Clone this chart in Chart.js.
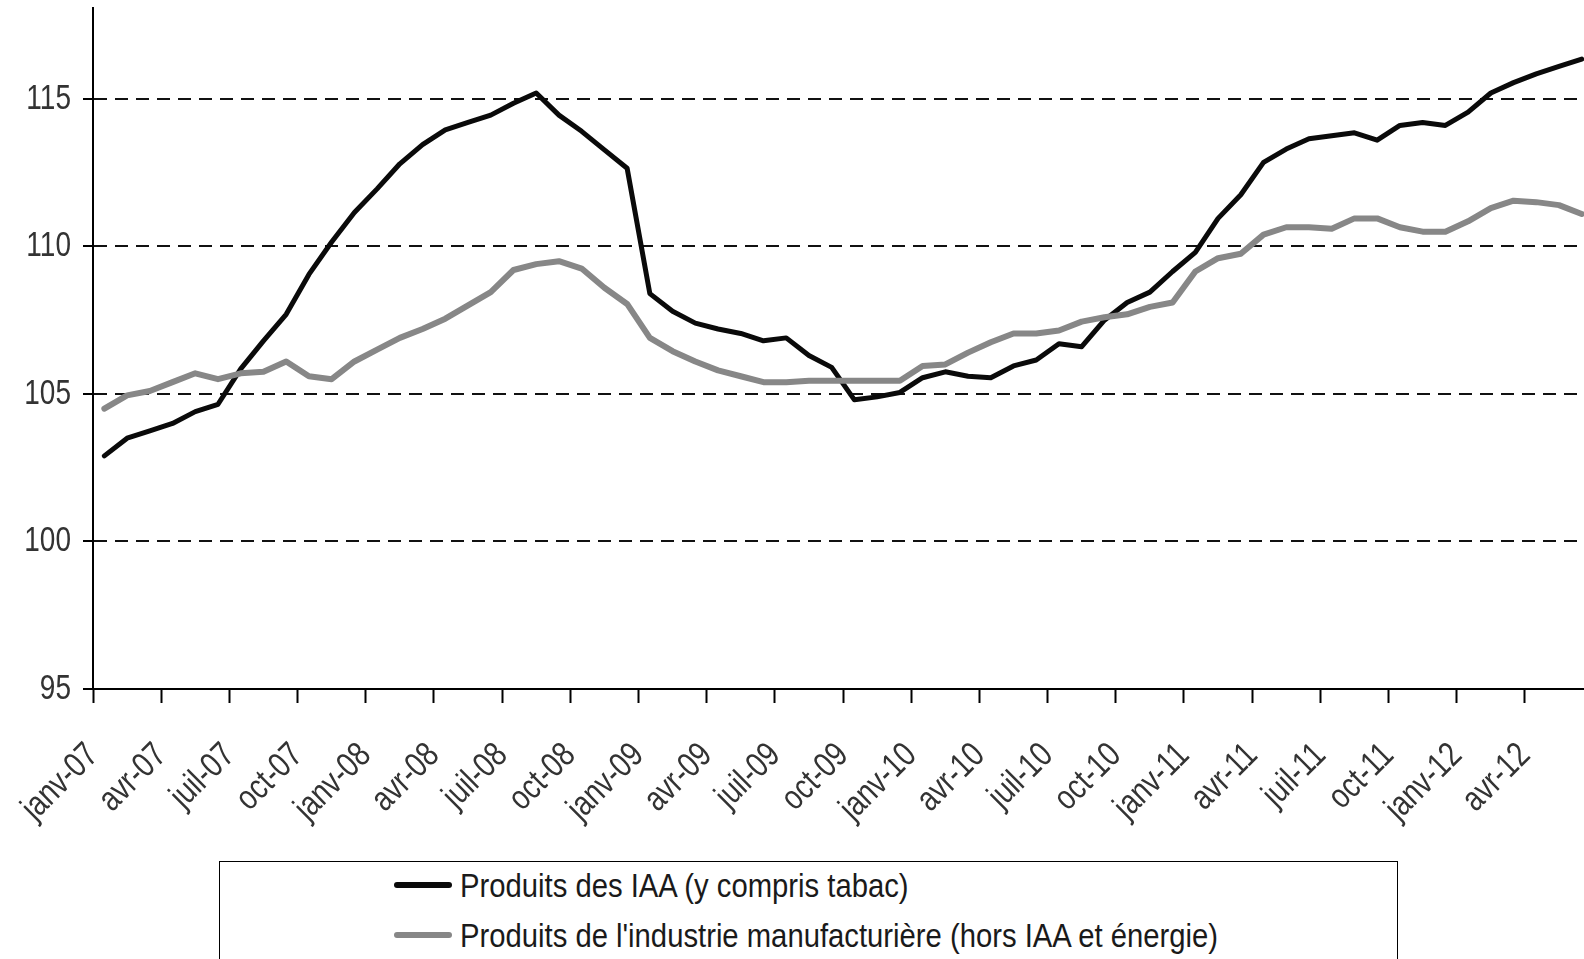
<!DOCTYPE html>
<html lang="fr">
<head>
<meta charset="utf-8">
<title>Indices de prix à la production</title>
<script src="https://cdn.jsdelivr.net/npm/chart.js@4.4.1/dist/chart.umd.min.js"></script>
<style>
  html, body { margin: 0; padding: 0; background: #fff; overflow: hidden; }
  #cadre { position: relative; width: 1584px; height: 959px; }
  #legende {
    position: absolute; left: 219px; top: 861px; width: 1179px; height: 140px;
    border: 1.5px solid #000; box-sizing: border-box; background: #fff;
    font-family: "Liberation Sans", Arial, sans-serif;
    font-size: 34px; color: #1a1a1a;
  }
  .item { position: absolute; left: 174px; height: 40px; display: flex; align-items: center; white-space: nowrap; }
  .trait { width: 58px; height: 6px; border-radius: 3px; margin-right: 8px; }
  .texte { display: inline-block; transform: scaleX(0.86); transform-origin: left center; }
</style>
</head>
<body>
<div id="cadre">
  <canvas id="graphique" width="1584" height="959"></canvas>
  <div id="legende"></div>
</div>
<script>
// Mois (janv-07 -> juin-12)
const mois = [
  "janv-07", "févr-07", "mars-07", "avr-07", "mai-07", "juin-07", "juil-07", "août-07", "sept-07", "oct-07", "nov-07", "déc-07",
  "janv-08", "févr-08", "mars-08", "avr-08", "mai-08", "juin-08", "juil-08", "août-08", "sept-08", "oct-08", "nov-08", "déc-08",
  "janv-09", "févr-09", "mars-09", "avr-09", "mai-09", "juin-09", "juil-09", "août-09", "sept-09", "oct-09", "nov-09", "déc-09",
  "janv-10", "févr-10", "mars-10", "avr-10", "mai-10", "juin-10", "juil-10", "août-10", "sept-10", "oct-10", "nov-10", "déc-10",
  "janv-11", "févr-11", "mars-11", "avr-11", "mai-11", "juin-11", "juil-11", "août-11", "sept-11", "oct-11", "nov-11", "déc-11",
  "janv-12", "févr-12", "mars-12", "avr-12", "mai-12", "juin-12"
];

// Produits des IAA (y compris tabac)
const iaa = [
  102.9, 103.5, 103.75, 104.0, 104.4, 104.65, 105.85, 106.8, 107.7, 109.05, 110.15, 111.15,
  111.95, 112.8, 113.45, 113.95, 114.2, 114.45, 114.85, 115.2, 114.45, 113.9, 113.27, 112.65,
  108.4, 107.8, 107.4, 107.2, 107.05, 106.8, 106.9, 106.3, 105.9, 104.8, 104.9, 105.05,
  105.55, 105.75, 105.6, 105.55, 105.95, 106.15, 106.7, 106.6, 107.5, 108.1, 108.45, 109.15,
  109.8, 110.95, 111.75, 112.85, 113.3, 113.65, 113.75, 113.85, 113.6, 114.1, 114.2, 114.1,
  114.55, 115.2, 115.55, 115.85, 116.1, 116.35
];

// Produits de l'industrie manufacturiere (hors IAA et energie)
const manuf = [
  104.5, 104.95, 105.1, 105.4, 105.7, 105.5, 105.7, 105.75, 106.1, 105.6, 105.5, 106.1,
  106.5, 106.9, 107.2, 107.55, 108.0, 108.45, 109.2, 109.4, 109.5, 109.25, 108.6, 108.05,
  106.9, 106.45, 106.1, 105.8, 105.6, 105.4, 105.4, 105.45, 105.45, 105.45, 105.45, 105.45,
  105.95, 106.0, 106.4, 106.75, 107.05, 107.05, 107.15, 107.45, 107.6, 107.7, 107.95, 108.1,
  109.15, 109.6, 109.75, 110.4, 110.65, 110.65, 110.6, 110.95, 110.95, 110.65, 110.5, 110.5,
  110.85, 111.3, 111.55, 111.5, 111.4, 111.1
];

const graduationsY = [95, 100, 105, 110, 115];

const police = { family: '"Liberation Sans", Arial, sans-serif', size: 35 };

// Police etroite (type Arial Narrow) : on tasse le texte du canvas horizontalement
const condense = {
  id: "condense",
  beforeInit(chart) {
    const ctx = chart.ctx;
    const fillTextOrig = ctx.fillText;
    ctx.fillText = function (texte, x, y) {
      this.save();
      this.translate(x, y);
      this.scale(0.8, 1);
      fillTextOrig.call(this, texte, 0, 0);
      this.restore();
    };
  },
};

const graphique = new Chart(document.getElementById("graphique"), {
  type: "line",
  data: {
    datasets: [
      {
        label: "Produits des IAA (y compris tabac)",
        data: iaa.map((v, i) => ({ x: i, y: v })),
        borderColor: "#0a0a0a",
        borderWidth: 5,
        order: 1,
      },
      {
        label: "Produits de l'industrie manufacturière (hors IAA et énergie)",
        data: manuf.map((v, i) => ({ x: i, y: v })),
        borderColor: "#878787",
        borderWidth: 6,
        order: 0,
      },
    ],
  },
  options: {
    responsive: false,
    animation: false,
    layout: { padding: { top: 8, left: 0, right: 0, bottom: 0 } },
    elements: {
      point: { radius: 0 },
      line: { tension: 0, borderJoinStyle: "round", borderCapStyle: "round" },
    },
    plugins: { legend: { display: false }, tooltip: { enabled: false } },
    scales: {
      x: {
        type: "linear",
        min: -0.5,
        max: 65.1,
        // un repere par trimestre, en limite de mois
        afterBuildTicks: (axe) => {
          axe.ticks = mois
            .map((m, i) => i)
            .filter((i) => i % 3 === 0)
            .map((i) => ({ value: i - 0.5 }));
        },
        afterFit: (axe) => {
          axe.height = 270;
          axe.paddingLeft = 0;
          axe.paddingRight = 0;
        },
        ticks: {
          autoSkip: false,
          minRotation: 45,
          maxRotation: 45,
          padding: 32,
          color: "#333",
          font: police,
          callback: (v) => mois[Math.round(v + 0.5)],
        },
        grid: { drawOnChartArea: false, tickLength: 14, tickColor: "#000", tickWidth: 2 },
        border: { color: "#000", width: 2 },
      },
      y: {
        min: 95,
        max: 118.08,
        afterBuildTicks: (axe) => {
          axe.ticks = graduationsY.map((v) => ({ value: v }));
        },
        afterFit: (axe) => {
          axe.width = 93;
          axe.paddingTop = 0;
          axe.paddingBottom = 0;
        },
        ticks: { padding: 12, color: "#333", font: police },
        grid: {
          color: (ctx) => (ctx.tick && ctx.tick.value === 95 ? "rgba(0,0,0,0)" : "#111"),
          lineWidth: 2,
          tickLength: 10,
          tickColor: "#000",
          tickWidth: 2,
        },
        border: { color: "#000", width: 2, dash: [13, 8] },
      },
    },
  },
  plugins: [condense],
});

// Legende encadree, construite a partir des series
const legende = document.getElementById("legende");
graphique.data.datasets.forEach((ds, k) => {
  const item = document.createElement("div");
  item.className = "item";
  item.style.top = (3 + k * 50) + "px";
  const trait = document.createElement("span");
  trait.className = "trait";
  trait.style.background = ds.borderColor;
  const texte = document.createElement("span");
  texte.className = "texte";
  texte.textContent = ds.label;
  item.appendChild(trait);
  item.appendChild(texte);
  legende.appendChild(item);
});
</script>
</body>
</html>
